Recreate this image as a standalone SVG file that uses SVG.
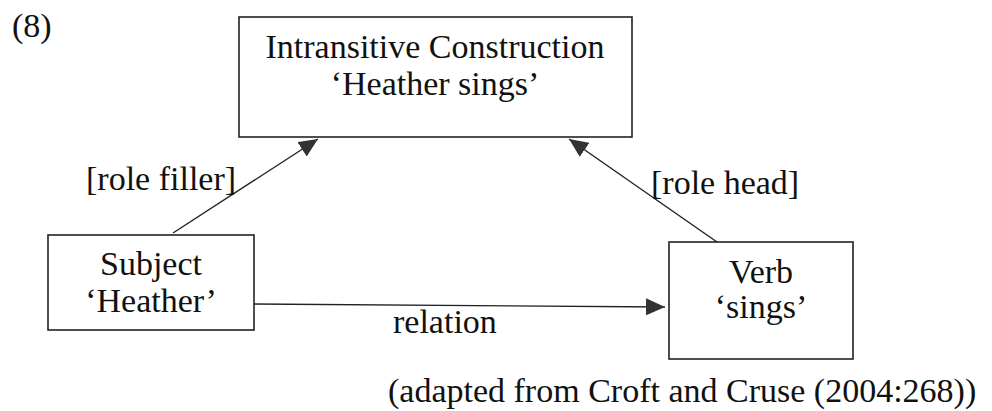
<svg xmlns="http://www.w3.org/2000/svg" width="992" height="411" viewBox="0 0 992 411">
  <style>
    text { font-family: "Liberation Serif", "Times New Roman", serif; font-size: 34px; fill: #111; }
    .c { text-anchor: middle; }
    .box { fill: #fff; stroke: #222; stroke-width: 1.6; }
    .edge { stroke: #222; stroke-width: 1.4; fill: none; }
  </style>
  <defs>
    <marker id="arrow" viewBox="0 0 10 10" refX="10" refY="5" markerWidth="19" markerHeight="17" markerUnits="userSpaceOnUse" orient="auto" preserveAspectRatio="none">
      <path d="M0,0 L10,5 L0,10 Z" fill="#333"/>
    </marker>
  </defs>

  <text x="12" y="37">(8)</text>

  <g id="construction">
    <rect class="box" x="239" y="17" width="393" height="120"/>
    <text class="c" x="435" y="58">Intransitive Construction</text>
    <text class="c" x="435" y="95">‘Heather sings’</text>
  </g>

  <g id="subject">
    <rect class="box" x="48" y="235" width="206" height="95"/>
    <text class="c" x="151" y="275">Subject</text>
    <text class="c" x="151" y="312">‘Heather’</text>
  </g>

  <g id="verb">
    <rect class="box" x="669" y="242" width="184" height="117"/>
    <text class="c" x="761" y="283">Verb</text>
    <text class="c" x="761" y="318">‘sings’</text>
  </g>

  <g id="connectors">
    <line class="edge" x1="173" y1="233" x2="318" y2="139" marker-end="url(#arrow)"/>
    <line class="edge" x1="717" y1="242" x2="569" y2="139" marker-end="url(#arrow)"/>
    <line class="edge" x1="254" y1="304" x2="665" y2="307" marker-end="url(#arrow)"/>
    <text x="86" y="190">[role filler]</text>
    <text x="651" y="194">[role head]</text>
    <text x="393" y="333">relation</text>
  </g>

  <text x="388" y="402">(adapted from Croft and Cruse (2004:268))</text>
</svg>
